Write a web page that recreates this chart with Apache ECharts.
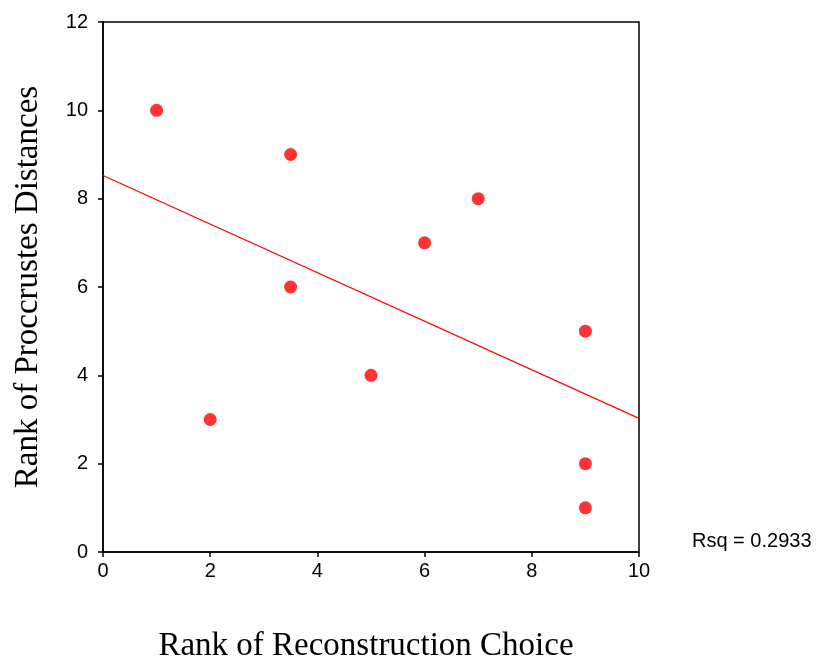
<!DOCTYPE html>
<html>
<head>
<meta charset="utf-8">
<script src="https://cdn.jsdelivr.net/npm/echarts@6/dist/echarts.min.js"></script>
<style>
  html, body { margin: 0; padding: 0; background: #fff; }
  #main { width: 819px; height: 657px; }
</style>
</head>
<body>
<div id="main"></div>
<script>
// rank pairs
const rankChoice = [1, 3.5, 3.5, 2, 5, 6, 7, 9, 9, 9];
const rankDist = [10, 9, 6, 3, 4, 7, 8, 5, 2, 1];
// fitted line end points
const fitX = [0, 10];
const fitY = [8.525, 3.025];
const rsqText = 'Rsq = 0.2933';

const chart = echarts.init(document.getElementById('main'));

const points = rankChoice.map((x, i) => [x, rankDist[i]]);
const fitLine = fitX.map((x, i) => [x, fitY[i]]);

const axisText = { color: '#000', fontFamily: 'Liberation Sans, Arial, sans-serif', fontSize: 20 };
const titleFont = 'Liberation Serif, Times New Roman, serif';

const option = {
    animation: false,
    backgroundColor: '#fff',
    grid: { left: 103, top: 22, width: 536, height: 530, outerBoundsMode: 'none', containLabel: false },
    xAxis: {
        type: 'value',
        min: 0,
        max: 10,
        interval: 2,
        name: 'Rank of Reconstruction Choice',
        nameLocation: 'middle',
        nameGap: 78,
        nameTextStyle: { color: '#000', fontFamily: titleFont, fontSize: 33, padding: [0, 10, 0, 0] },
        axisLine: { onZero: false, lineStyle: { color: '#000', width: 1.5 } },
        axisTick: { show: true, length: 5, lineStyle: { color: '#000', width: 1.5 } },
        axisLabel: Object.assign({ margin: 9 }, axisText),
        splitLine: { show: false }
    },
    yAxis: {
        type: 'value',
        min: 0,
        max: 12,
        interval: 2,
        name: 'Rank of Proccrustes Distances',
        nameLocation: 'middle',
        nameGap: 58,
        nameTextStyle: { color: '#000', fontFamily: titleFont, fontSize: 33 },
        axisLine: { onZero: false, lineStyle: { color: '#000', width: 1.5 } },
        axisTick: { show: true, length: 5, lineStyle: { color: '#000', width: 1.5 } },
        axisLabel: Object.assign({ margin: 15 }, axisText),
        splitLine: { show: false }
    },
    graphic: [
        {
            type: 'rect',
            shape: { x: 103, y: 22, width: 536, height: 530 },
            style: { fill: 'none', stroke: '#000', lineWidth: 1.5 },
            silent: true
        },
        {
            type: 'text',
            left: 692,
            top: 531,
            style: { text: rsqText, fill: '#000', font: '20px Liberation Sans, Arial, sans-serif' }
        }
    ],
    series: [
        {
            type: 'line',
            data: fitLine,
            symbol: 'none',
            lineStyle: { color: '#ff0000', width: 1.2 },
            z: 2
        },
        {
            type: 'scatter',
            data: points,
            symbol: 'circle',
            symbolSize: 13,
            itemStyle: { color: '#ff0000' },
            z: 3
        }
    ]
};
chart.setOption(option);
</script>
</body>
</html>
